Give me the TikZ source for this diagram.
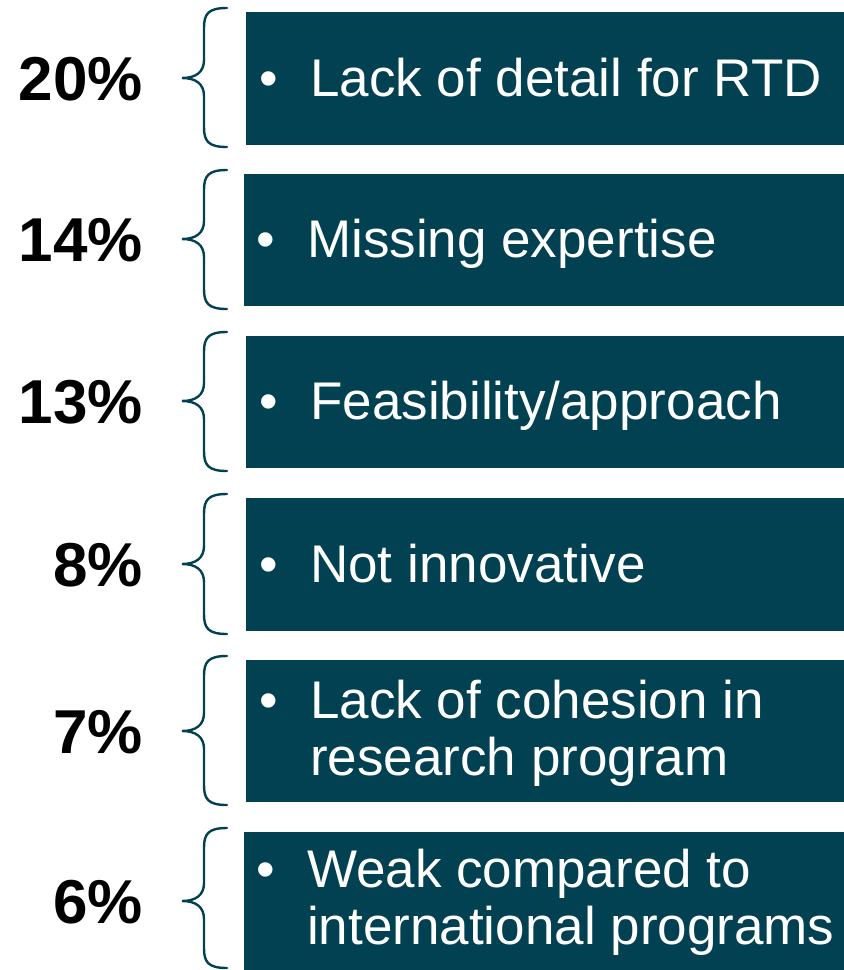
\documentclass[tikz,border=0pt]{standalone}
\usepackage{fontspec}
\setmainfont{Liberation Sans}
\definecolor{teal}{HTML}{024152}
\tikzset{
  box/.style={fill=teal, draw=none},
  pct/.style={anchor=base east, font=\fontsize{62}{64}\selectfont\bfseries, inner sep=0pt, text=black},
  item/.style={anchor=base west, font=\fontsize{53}{57}\selectfont, inner sep=0pt, text=white},
  bul/.style={anchor=base west, font=\fontsize{53}{57}\selectfont, inner sep=0pt, text=white},
  brc/.style={draw=teal, line width=2.4pt, line cap=round}
}
\newcommand{\mybrace}[3]{%
  % #1 top, #2 mid, #3 bottom
  \draw[brc] (227,#1) .. controls (208,#1) and (204,#1+6) .. (204,#1+20)
    -- (204,#2-18) .. controls (204,#2-6) and (196,#2) .. (182,#2)
    .. controls (196,#2) and (204,#2+6) .. (204,#2+18)
    -- (204,#3-20) .. controls (204,#3-6) and (208,#3) .. (227,#3);}
\begin{document}
\begin{tikzpicture}[x=1pt,y=-1pt]
\useasboundingbox (0,0) rectangle (844,970);
% boxes
\path[box] (246,12) rectangle (844,145) coordinate (b1);
\path[box] (244,174) rectangle (844,306) coordinate (b2);
\path[box] (246,336) rectangle (844,468) coordinate (b3);
\path[box] (246,498) rectangle (844,631) coordinate (b4);
\path[box] (246,660) rectangle (844,802) coordinate (b5);
\path[box] (244,832) rectangle (844,970) coordinate (b6);
% braces
\mybrace{8}{78}{147}
\mybrace{170}{239}{309}
\mybrace{332}{401}{471}
\mybrace{494}{564}{634}
\mybrace{656}{731}{805}
\mybrace{828}{901}{968}
% percentages
\node[pct] (p1) at (143,100) {20\%};
\node[pct] (p2) at (143,261) {14\%};
\node[pct] (p3) at (143,423) {13\%};
\node[pct] (p4) at (143,586) {8\%};
\node[pct] (p5) at (143,753) {7\%};
\node[pct] (p6) at (143,923) {6\%};
% bullets
\node[bul] (u1) at (259,96) {•};
\node[bul] (u2) at (256,257) {•};
\node[bul] (u3) at (259,419) {•};
\node[bul] (u4) at (259,582) {•};
\node[bul] (u5) at (259,718) {•};
\node[bul] (u6) at (256,887) {•};
% texts
\node[item] (t1) at (310,96) {Lack of detail for RTD};
\node[item] (t2) at (307,257) {Missing expertise};
\node[item] (t3) at (310,419) {Feasibility/approach};
\node[item] (t4) at (310,582) {Not innovative};
\node[item] (t5a) at (310,718) {Lack of cohesion in};
\node[item] (t5b) at (310,775) {research program};
\node[item] (t6a) at (307,887) {Weak compared to};
\node[item] (t6b) at (307,944) {international programs};
\end{tikzpicture}
\end{document}
